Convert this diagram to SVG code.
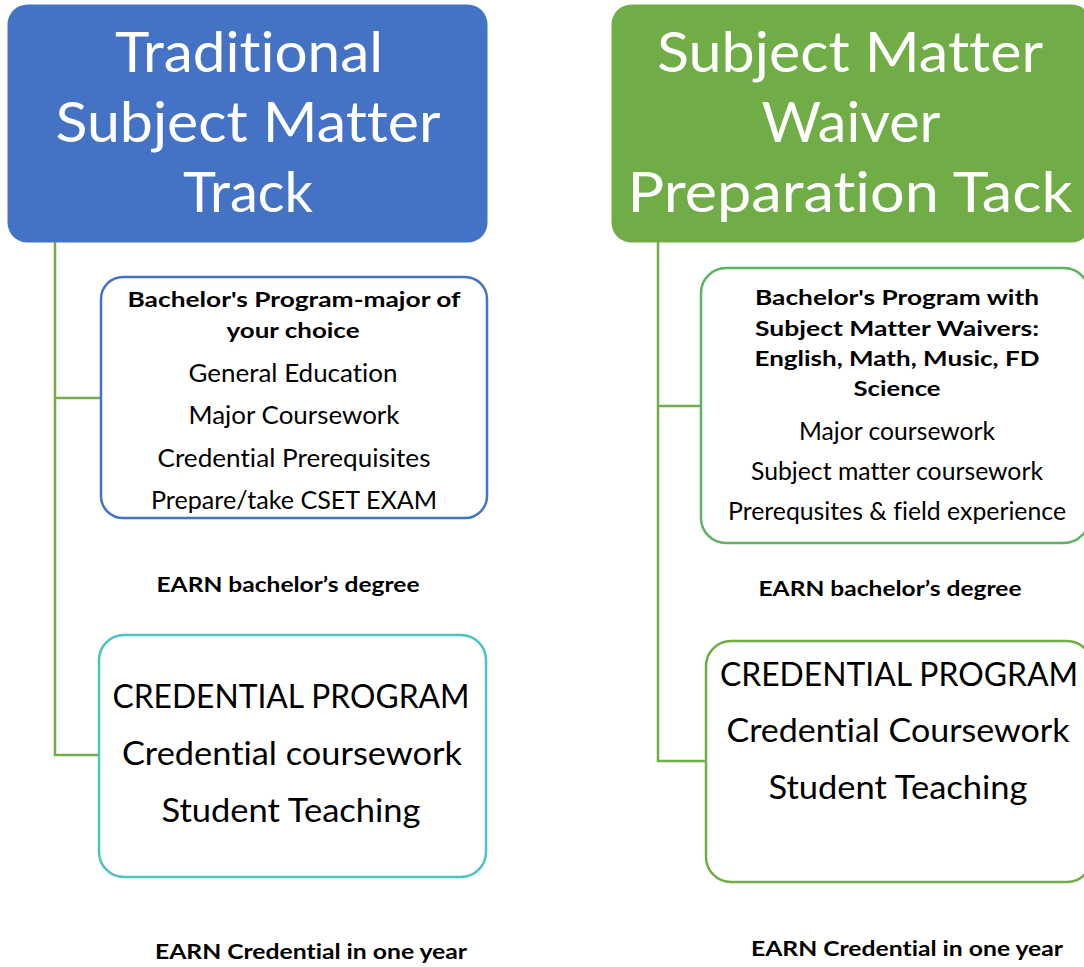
<svg xmlns="http://www.w3.org/2000/svg" width="1084" height="967" viewBox="0 0 1084 967">
<style>
text{font-family:Lato,"Open Sans","Liberation Sans",sans-serif;text-anchor:middle;fill:#000;font-variant-ligatures:none;font-feature-settings:"liga" 0,"clig" 0,"dlig" 0}
.hd{font-size:57px;fill:#fff}
.b{font-size:21px;font-weight:bold}
.n{font-size:25px}
.l{font-size:32px}
.e{font-size:21px;font-weight:bold}
.conn{fill:none;stroke:#70AD47;stroke-width:2.5}
.box{fill:#fff;stroke-width:2.5}
</style>
<rect width="1084" height="967" fill="#fff"/>
<g id="connectors">
<polyline class="conn" points="55,242 55,755 99,755"/>
<line class="conn" x1="55" y1="398" x2="101" y2="398"/>
<polyline class="conn" points="658,242 658,761 706,761"/>
<line class="conn" x1="658" y1="406" x2="701" y2="406"/>
</g>
<g id="header-left">
<rect x="7.5" y="4.5" width="480" height="238" rx="20" fill="#4472C4"/>
<text class="hd" x="249" y="72" textLength="268" lengthAdjust="spacingAndGlyphs">Traditional</text>
<text class="hd" x="248" y="142" textLength="385" lengthAdjust="spacingAndGlyphs">Subject Matter</text>
<text class="hd" x="248" y="212" textLength="130" lengthAdjust="spacingAndGlyphs">Track</text>
</g>
<g id="header-right">
<rect x="611.5" y="4.5" width="480" height="238" rx="20" fill="#70AD47"/>
<text class="hd" x="850" y="72" textLength="386" lengthAdjust="spacingAndGlyphs">Subject Matter</text>
<text class="hd" x="851" y="142" textLength="179" lengthAdjust="spacingAndGlyphs">Waiver</text>
<text class="hd" x="850" y="212" textLength="445" lengthAdjust="spacingAndGlyphs">Preparation  Tack</text>
</g>
<g id="bachelor-left">
<rect class="box" x="101" y="277" width="386" height="241" rx="22" stroke="#4472C4"/>
<text class="b" x="294" y="307" textLength="333" lengthAdjust="spacingAndGlyphs">Bachelor's Program-major of</text>
<text class="b" x="293" y="338" textLength="133" lengthAdjust="spacingAndGlyphs">your choice</text>
<text class="n" x="293" y="382" textLength="209" lengthAdjust="spacingAndGlyphs">General Education</text>
<text class="n" x="294" y="424" textLength="211" lengthAdjust="spacingAndGlyphs">Major Coursework</text>
<text class="n" x="294" y="467" textLength="273" lengthAdjust="spacingAndGlyphs">Credential Prerequisites</text>
<text class="n" x="294" y="509" textLength="286" lengthAdjust="spacingAndGlyphs">Prepare/take CSET EXAM</text>
</g>
<g id="earn-bachelor-left">
<text class="e" x="288" y="592" textLength="263" lengthAdjust="spacingAndGlyphs">EARN bachelor’s degree</text>
</g>
<g id="credential-left">
<rect class="box" x="99" y="635" width="387" height="242" rx="25" stroke="#4DC3BE"/>
<text class="l" x="291" y="708" textLength="357" lengthAdjust="spacingAndGlyphs">CREDENTIAL PROGRAM</text>
<text class="l" x="292" y="765" textLength="340" lengthAdjust="spacingAndGlyphs">Credential coursework</text>
<text class="l" x="291" y="822" textLength="259" lengthAdjust="spacingAndGlyphs">Student Teaching</text>
</g>
<g id="earn-credential-left">
<text class="e" x="311" y="959" textLength="312" lengthAdjust="spacingAndGlyphs">EARN Credential in one year</text>
</g>
<g id="bachelor-right">
<rect class="box" x="701" y="268" width="388" height="275" rx="25" stroke="#5BB55E"/>
<text class="b" x="897" y="305" textLength="284" lengthAdjust="spacingAndGlyphs">Bachelor's Program with</text>
<text class="b" x="897" y="336" textLength="284" lengthAdjust="spacingAndGlyphs">Subject Matter Waivers:</text>
<text class="b" x="897" y="366" textLength="285" lengthAdjust="spacingAndGlyphs">English, Math, Music, FD</text>
<text class="b" x="897" y="396" textLength="87" lengthAdjust="spacingAndGlyphs">Science</text>
<text class="n" x="897" y="440" textLength="196" lengthAdjust="spacingAndGlyphs">Major coursework</text>
<text class="n" x="897" y="480" textLength="292" lengthAdjust="spacingAndGlyphs">Subject matter coursework</text>
<text class="n" x="897" y="520" textLength="338" lengthAdjust="spacingAndGlyphs">Prerequsites &amp; field experience</text>
</g>
<g id="earn-bachelor-right">
<text class="e" x="890" y="596" textLength="263" lengthAdjust="spacingAndGlyphs">EARN bachelor’s degree</text>
</g>
<g id="credential-right">
<rect class="box" x="706" y="641" width="386" height="241" rx="25" stroke="#70AD47"/>
<text class="l" x="899" y="686" textLength="358" lengthAdjust="spacingAndGlyphs">CREDENTIAL PROGRAM</text>
<text class="l" x="898" y="742" textLength="343" lengthAdjust="spacingAndGlyphs">Credential Coursework</text>
<text class="l" x="898" y="799" textLength="259" lengthAdjust="spacingAndGlyphs">Student Teaching</text>
</g>
<g id="earn-credential-right">
<text class="e" x="907" y="956" textLength="312" lengthAdjust="spacingAndGlyphs">EARN Credential in one year</text>
</g>
</svg>
